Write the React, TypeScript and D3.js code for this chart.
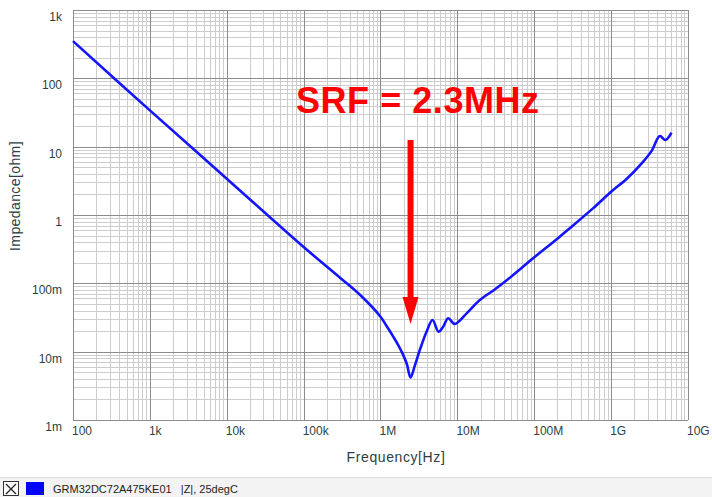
import React, { useEffect, useRef } from 'react';
import * as d3 from 'd3';

// impedance curve
const freqHz = [100, 1e3, 1e4, 1e5, 3e5, 5.4e5, 1e6, 1.2e6, 1.45e6, 1.7e6, 1.95e6, 2.2e6, 2.46e6, 2.8e6, 3.25e6, 3.97e6, 4.76e6, 5.69e6, 6.53e6, 7.59e6, 9.27e6, 1.32e7, 1.96e7, 3e7, 5e7, 1e8, 2e8, 2.9e8, 5.8e8, 1e9, 1.6e9, 2.6e9, 3.35e9, 4.3e9, 5.1e9, 6.1e9];
const impedance = [350, 34, 3.4, 0.34, 0.12, 0.068, 0.0325, 0.0237, 0.0169, 0.0125, 0.0092, 0.0066, 0.0042, 0.0063, 0.0106, 0.0196, 0.029, 0.0196, 0.0232, 0.0308, 0.0254, 0.0364, 0.057, 0.08, 0.125, 0.24, 0.45, 0.64, 1.25, 2.19, 3.4, 6.0, 8.6, 14.3, 12.5, 16.0];

const xTickValues = [1e2, 1e3, 1e4, 1e5, 1e6, 1e7, 1e8, 1e9, 1e10];
const xTickLabels = ['100', '1k', '10k', '100k', '1M', '10M', '100M', '1G', '10G'];
const yTickValues = [1e3, 1e2, 1e1, 1, 1e-1, 1e-2, 1e-3];
const yTickLabels = ['1k', '100', '10', '1', '100m', '10m', '1m'];

const srfFreq = 2.46e6;
const srfLabel = 'SRF = 2.3MHz';
const legendText = 'GRM32DC72A475KE01   |Z|, 25degC';

const W = 712;
const H = 497;

const App = () => {
  const ref = useRef<SVGSVGElement>(null);

  useEffect(() => {
    const svg = d3.select(ref.current);
    svg.selectAll('*').remove();

    const left = 73, right = 688, top = 10, bottom = 420;
    const x = d3.scaleLog().domain([1e2, 1e10]).range([left, right]);
    const y = d3.scaleLog().domain([1e-3, 1e3]).range([bottom, top]);
    const textColor = '#2b3f44';
    const font = '"Liberation Sans", Arial, sans-serif';

    svg.append('rect').attr('width', W).attr('height', H).attr('fill', '#fff');

    // minor grid
    const minorX: number[] = [];
    for (let d = 2; d < 10; d++) for (let k = 1; k <= 9; k++) minorX.push(k * Math.pow(10, d));
    const minorY: number[] = [];
    for (let d = -3; d < 3; d++) for (let k = 2; k <= 9; k++) minorY.push(k * Math.pow(10, d));

    const grid = svg.append('g').attr('shape-rendering', 'crispEdges');
    grid.selectAll('.mx').data(minorX.filter(v => !xTickValues.includes(v))).enter().append('line')
      .attr('x1', d => Math.round(x(d)) + 0.5).attr('x2', d => Math.round(x(d)) + 0.5)
      .attr('y1', top).attr('y2', bottom)
      .attr('stroke', '#cdcdcd').attr('stroke-width', 1);
    grid.selectAll('.my').data(minorY).enter().append('line')
      .attr('y1', d => Math.round(y(d)) + 0.5).attr('y2', d => Math.round(y(d)) + 0.5)
      .attr('x1', left).attr('x2', right)
      .attr('stroke', '#cdcdcd').attr('stroke-width', 1);

    // decade lines
    grid.selectAll('.Mx').data(xTickValues).enter().append('line')
      .attr('x1', d => Math.round(x(d)) + 0.5).attr('x2', d => Math.round(x(d)) + 0.5)
      .attr('y1', top).attr('y2', bottom)
      .attr('stroke', '#8c8c8c').attr('stroke-width', 1);
    grid.selectAll('.My').data(yTickValues).enter().append('line')
      .attr('y1', d => Math.round(y(d)) + 0.5).attr('y2', d => Math.round(y(d)) + 0.5)
      .attr('x1', left).attr('x2', right)
      .attr('stroke', '#8c8c8c').attr('stroke-width', 1);

    // tick labels
    svg.selectAll('.xl').data(xTickValues).enter().append('text')
      .attr('x', d => x(d) - 1).attr('y', bottom + 15)
      .attr('font-family', font).attr('font-size', 12).attr('fill', textColor)
      .text((d, i) => xTickLabels[i]);
    svg.selectAll('.yl').data(yTickValues).enter().append('text')
      .attr('x', 62).attr('y', d => y(d) + 11)
      .attr('text-anchor', 'end')
      .attr('font-family', font).attr('font-size', 12).attr('fill', textColor)
      .text((d, i) => yTickLabels[i]);

    // axis titles
    svg.append('text').attr('x', 396).attr('y', 462)
      .attr('text-anchor', 'middle').attr('font-family', font).attr('font-size', 14)
      .attr('letter-spacing', 0.6).attr('fill', textColor).text('Frequency[Hz]');
    svg.append('text').attr('transform', 'translate(20,196) rotate(-90)')
      .attr('text-anchor', 'middle').attr('font-family', font).attr('font-size', 14)
      .attr('letter-spacing', 0.4).attr('fill', textColor).text('Impedance[ohm]');

    // curve
    const pts = freqHz.map((f, i) => [f, impedance[i]] as [number, number]);
    const line = d3.line<[number, number]>()
      .x(d => x(d[0])).y(d => y(d[1]))
      .curve(d3.curveCatmullRom.alpha(0.5));
    svg.append('path').datum(pts)
      .attr('d', line)
      .attr('fill', 'none').attr('stroke', '#1414ff').attr('stroke-width', 2.6)
      .attr('stroke-linejoin', 'round');

    // SRF annotation
    const ax = x(srfFreq);
    svg.append('rect').attr('x', ax - 3).attr('y', 140).attr('width', 6).attr('height', 160).attr('fill', '#ff0000');
    svg.append('path')
      .attr('d', `M${ax - 8},297 L${ax + 8},297 L${ax},324 Z`)
      .attr('fill', '#ff0000');
    svg.append('text').attr('x', 296).attr('y', 113)
      .attr('font-family', font).attr('font-weight', 'bold').attr('font-size', 36)
      .attr('textLength', 243).attr('fill', '#ff0000').text(srfLabel);

    // legend strip
    svg.append('rect').attr('x', 0).attr('y', 477).attr('width', W).attr('height', 20).attr('fill', '#f3f3f3');
    svg.append('line').attr('x1', 0).attr('x2', W).attr('y1', 477.5).attr('y2', 477.5).attr('stroke', '#dcdcdc');
    svg.append('rect').attr('x', 3.5).attr('y', 481.5).attr('width', 15).attr('height', 14)
      .attr('fill', '#fff').attr('stroke', '#333');
    svg.append('path').attr('d', 'M6,484 L16,494 M16,484 L6,494').attr('stroke', '#222').attr('stroke-width', 1.3);
    svg.append('rect').attr('x', 26).attr('y', 482).attr('width', 18).attr('height', 13).attr('fill', '#0000ff');
    svg.append('path').attr('d', 'M40,492 L44,492 L42,494 Z').attr('fill', '#333');
    svg.append('text').attr('x', 53).attr('y', 493)
      .style('white-space', 'pre')
      .attr('font-family', font).attr('font-size', 11).attr('fill', '#222').text(legendText);
  }, []);

  return <svg ref={ref} width={W} height={H} style={{ position: 'absolute', left: 0, top: 0 }} />;
};

export default App;
